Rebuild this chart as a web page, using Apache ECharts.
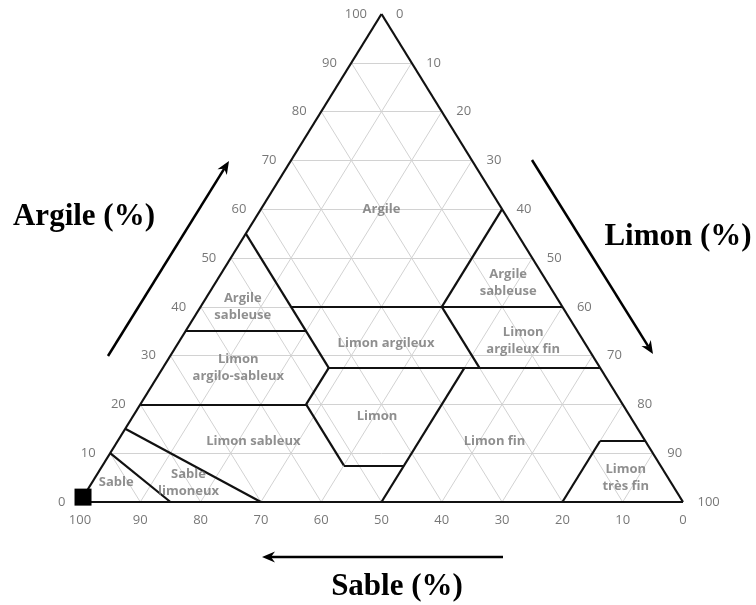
<!DOCTYPE html>
<html>
<head>
<meta charset="utf-8">
<script src="https://cdn.jsdelivr.net/npm/echarts@6/dist/echarts.min.js"></script>
<style>
html, body { margin: 0; background: #fff; }
#chart-panel { width: 756px; height: 605px; }
</style>
</head>
<body>
<div id="chart-panel"></div>
<script>
// triangle des textures : points en [argile, limon], sable = 100 - argile - limon
var gridTicks = [10, 20, 30, 40, 50, 60, 70, 80, 90];
var argileTicks = [0, 10, 20, 30, 40, 50, 60, 70, 80, 90, 100];
var limonTicks = [0, 10, 20, 30, 40, 50, 60, 70, 80, 90, 100];
var sableTicks = [100, 90, 80, 70, 60, 50, 40, 30, 20, 10, 0];

// limites des classes, chaque segment = [[argile, limon], [argile, limon]]
var boundaries = [
    [[10, 0], [0, 15]],
    [[15, 0], [0, 30]],
    [[20, 0], [20, 27.5]],
    [[20, 27.5], [7.5, 40]],
    [[7.5, 40], [7.5, 50]],
    [[0, 50], [27.5, 50]],
    [[35, 0], [35, 20]],
    [[55, 0], [27.5, 27.5]],
    [[27.5, 27.5], [20, 27.5]],
    [[40, 15], [40, 60]],
    [[60, 40], [40, 40]],
    [[40, 40], [27.5, 52.5]],
    [[27.5, 27.5], [27.5, 72.5]],
    [[12.5, 80], [12.5, 87.5]],
    [[0, 80], [12.5, 80]]
];

var classNames = ['Argile', 'Argile\nsableuse', 'Limon\nargilo-sableux', 'Limon sableux', 'Sable',
    'Sable\nlimoneux', 'Limon argileux', 'Limon', 'Limon fin', 'Argile\nsableuse',
    'Limon\nargileux fin', 'Limon\ntrès fin'];
var classArgile = [60, 40, 27.5, 12.5, 4, 4, 32.5, 17.5, 12.5, 45, 33, 5];
var classLimon = [20, 7, 12.5, 22.5, 4, 16, 34.5, 40.5, 62.5, 48.5, 57, 88];

// échantillon (carré noir)
var sampleArgile = [1];
var sampleLimon = [0];

function toXY(argile, limon) {
    return [limon + argile / 2, argile];
}

var chart = echarts.init(document.getElementById('chart-panel'));

// lignes de la grille
var gridLines = [];
gridTicks.forEach(function (t) {
    gridLines.push({ coords: [toXY(t, 0), toXY(t, 100 - t)] });       // argile constante
    gridLines.push({ coords: [toXY(0, t), toXY(100 - t, t)] });       // limon constant
    gridLines.push({ coords: [toXY(0, 100 - t), toXY(100 - t, 0)] }); // sable constant
});

var outline = [
    { coords: [toXY(0, 0), toXY(0, 100)] },
    { coords: [toXY(0, 100), toXY(100, 0)] },
    { coords: [toXY(100, 0), toXY(0, 0)] }
];

var boundaryLines = boundaries.map(function (b) {
    return { coords: [toXY(b[0][0], b[0][1]), toXY(b[1][0], b[1][1])] };
});

var tickFont = { fontFamily: 'Open Sans', fontSize: 13, color: '#555' };

function tickSeries(data, position, distance) {
    return {
        type: 'scatter',
        symbolSize: 1,
        itemStyle: { color: 'rgba(0,0,0,0)' },
        silent: true,
        data: data,
        label: Object.assign({
            show: true,
            position: position,
            distance: distance,
            formatter: function (p) { return p.value[2]; }
        }, tickFont)
    };
}

var leftData = argileTicks.map(function (v) { return toXY(v, 0).concat([v]); });
var rightData = limonTicks.map(function (v) { return toXY(100 - v, v).concat([v]); });
var bottomData = sableTicks.map(function (v) { return toXY(0, 100 - v).concat([v]); });

var classData = classNames.map(function (n, i) {
    return toXY(classArgile[i], classLimon[i]).concat([n]);
});

function arrow(x1, y1, x2, y2) {
    var a = Math.atan2(y2 - y1, x2 - x1);
    var len = 13, hw = 5.5, notch = 4;
    var bx = x2 - len * Math.cos(a), by = y2 - len * Math.sin(a);
    var nx = x2 - (len - notch) * Math.cos(a), ny = y2 - (len - notch) * Math.sin(a);
    var px = -Math.sin(a), py = Math.cos(a);
    return [{
        type: 'line',
        shape: { x1: x1, y1: y1, x2: nx, y2: ny },
        style: { stroke: '#000', lineWidth: 2.5 }
    }, {
        type: 'polygon',
        shape: { points: [[x2, y2], [bx + px * hw, by + py * hw], [nx, ny], [bx - px * hw, by - py * hw]] },
        style: { fill: '#000' }
    }];
}

var titleFont = 'bold 31px "Liberation Serif", "Times New Roman", serif';

var option = {
    backgroundColor: '#fff',
    animation: false,
    grid: { left: 80, top: 14, width: 603, height: 488 },
    xAxis: { type: 'value', min: 0, max: 100, show: false },
    yAxis: { type: 'value', min: 0, max: 100, show: false },
    graphic: [].concat(
        arrow(108, 356, 229, 161),
        arrow(532, 160, 653, 354),
        arrow(503, 557, 262, 557),
        [{
            type: 'text', x: 84, y: 217,
            style: { text: 'Argile (%)', font: titleFont, fill: '#000', align: 'center', verticalAlign: 'middle' }
        }, {
            type: 'text', x: 678, y: 237,
            style: { text: 'Limon (%)', font: titleFont, fill: '#000', align: 'center', verticalAlign: 'middle' }
        }, {
            type: 'text', x: 397, y: 587,
            style: { text: 'Sable (%)', font: titleFont, fill: '#000', align: 'center', verticalAlign: 'middle' }
        }]
    ),
    series: [{
        type: 'lines',
        coordinateSystem: 'cartesian2d',
        silent: true,
        lineStyle: { color: '#d2d2d2', width: 1, opacity: 1 },
        data: gridLines
    }, {
        type: 'lines',
        coordinateSystem: 'cartesian2d',
        silent: true,
        lineStyle: { color: '#111', width: 2.2, opacity: 1 },
        data: boundaryLines.concat(outline)
    },
        tickSeries(leftData, 'left', 14),
        tickSeries(rightData, 'right', 14),
        tickSeries(bottomData, 'bottom', 11),
    {
        type: 'scatter',
        symbolSize: 1,
        itemStyle: { color: 'rgba(0,0,0,0)' },
        silent: true,
        data: classData,
        label: {
            show: true,
            position: 'inside',
            formatter: function (p) { return p.value[2]; },
            fontFamily: 'Open Sans',
            fontWeight: 'bold',
            fontSize: 13,
            lineHeight: 17,
            color: '#737373',
            align: 'center'
        }
    }, {
        type: 'scatter',
        symbol: 'rect',
        symbolSize: 17,
        z: 10,
        itemStyle: { color: '#000', opacity: 1 },
        silent: true,
        data: sampleArgile.map(function (a, i) { return toXY(a, sampleLimon[i]); })
    }]
};

chart.setOption(option);
</script>
</body>
</html>
